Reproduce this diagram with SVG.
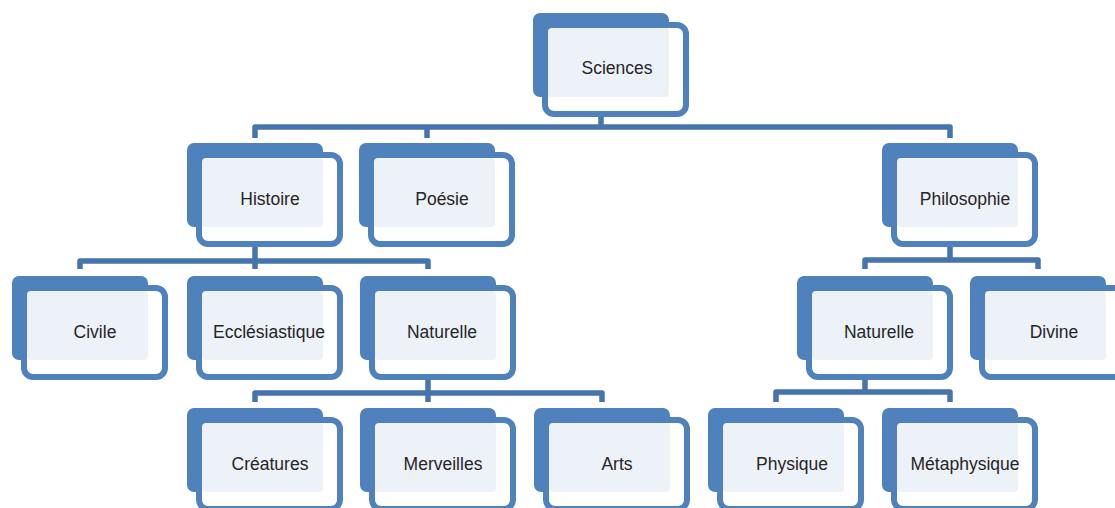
<svg xmlns="http://www.w3.org/2000/svg" width="1115" height="508" viewBox="0 0 1115 508">
<defs>
<style>
.back{fill:#4F81BD;}
.frame{fill:#FFFFFF;stroke:#4F81BD;stroke-width:6;}
.face{fill:#EDF1F8;}
.lbl{font-family:"Liberation Sans",Arial,sans-serif;font-size:17.5px;fill:#262626;text-anchor:middle;}
.con{fill:none;stroke:#4674AD;stroke-width:5.5;stroke-linejoin:round;}
.ghost{stroke:#DCE4F0;stroke-width:5;}
</style>
<g id="node-shape">
<rect class="back" x="0" y="0" width="136" height="84" rx="7"/>
<rect class="frame" x="12" y="12" width="141" height="89" rx="9"/>
<rect class="face" x="15" y="15" width="121" height="69" rx="4"/>
</g>
</defs>
<rect width="1115" height="508" fill="#FFFFFF"/>
<g id="connectors">
<line class="ghost" x1="601" y1="97" x2="601" y2="112"/>
<line class="ghost" x1="255" y1="227" x2="255" y2="244"/>
<line class="ghost" x1="950" y1="227" x2="950" y2="244"/>
<line class="ghost" x1="428" y1="360" x2="428" y2="377"/>
<line class="ghost" x1="865" y1="360" x2="865" y2="377"/>
<path class="con" d="M601 115 V127 M255 138 V127 H950 V138 M427 127 V138"/>
<path class="con" d="M255 247 V261 M80 269 V261 H428 V269 M255 261 V269"/>
<path class="con" d="M950 247 V260 M865 269 V260 H1038 V269"/>
<path class="con" d="M428 380 V393 M255 402 V393 H602 V402 M428 393 V402"/>
<path class="con" d="M865 380 V392 M776 402 V392 H950 V402"/>
</g>
<g id="n-sciences"><use href="#node-shape" x="533" y="13"/><text class="lbl" x="617" y="74">Sciences</text></g>
<g id="n-histoire"><use href="#node-shape" x="187" y="143"/><text class="lbl" x="270" y="205">Histoire</text></g>
<g id="n-poesie"><use href="#node-shape" x="359" y="143"/><text class="lbl" x="442" y="205">Poésie</text></g>
<g id="n-philosophie"><use href="#node-shape" x="882" y="143"/><text class="lbl" x="965" y="205">Philosophie</text></g>
<g id="n-civile"><use href="#node-shape" x="12" y="276"/><text class="lbl" x="95" y="338">Civile</text></g>
<g id="n-ecclesiastique"><use href="#node-shape" x="187" y="276"/><text class="lbl" x="269" y="338">Ecclésiastique</text></g>
<g id="n-naturelle-h"><use href="#node-shape" x="360" y="276"/><text class="lbl" x="442" y="338">Naturelle</text></g>
<g id="n-naturelle-p"><use href="#node-shape" x="797" y="276"/><text class="lbl" x="879" y="338">Naturelle</text></g>
<g id="n-divine"><use href="#node-shape" x="970" y="276"/><text class="lbl" x="1054" y="338">Divine</text></g>
<g id="n-creatures"><use href="#node-shape" x="187" y="408"/><text class="lbl" x="270" y="470">Créatures</text></g>
<g id="n-merveilles"><use href="#node-shape" x="360" y="408"/><text class="lbl" x="443" y="470">Merveilles</text></g>
<g id="n-arts"><use href="#node-shape" x="534" y="408"/><text class="lbl" x="617" y="470">Arts</text></g>
<g id="n-physique"><use href="#node-shape" x="708" y="408"/><text class="lbl" x="792" y="470">Physique</text></g>
<g id="n-metaphysique"><use href="#node-shape" x="882" y="408"/><text class="lbl" x="965" y="470">Métaphysique</text></g>
</svg>
